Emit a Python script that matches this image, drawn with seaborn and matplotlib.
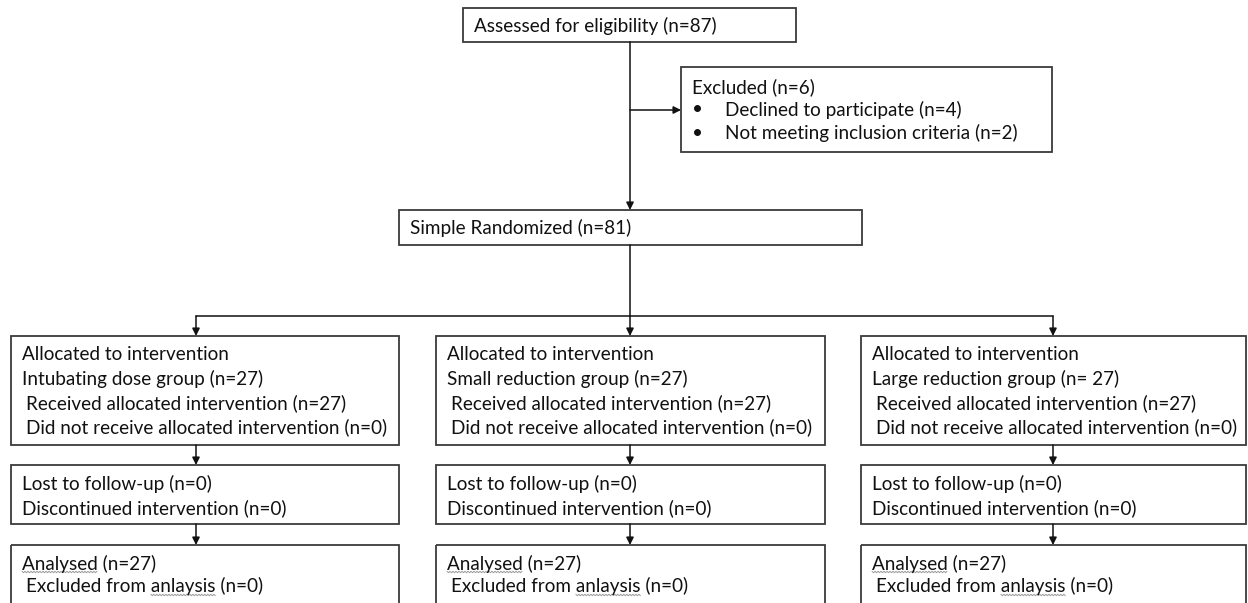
import matplotlib
matplotlib.use("Agg")
import numpy as np
import matplotlib.pyplot as plt
from matplotlib.patches import Rectangle
import seaborn as sns

sns.set_theme(style="white")
plt.rcParams['font.family'] = ['Lato', 'DejaVu Sans']

# flow counts
assessed_n = 87
excluded_n = 6
declined_n = 4
not_meeting_n = 2
randomized_n = 81
groups = ["Intubating dose group", "Small reduction group", "Large reduction group"]
group_n = ["27", "27", " 27"]
received_n = [27, 27, 27]
not_received_n = [0, 0, 0]
lost_n = [0, 0, 0]
discontinued_n = [0, 0, 0]
analysed_n = [27, 27, 27]
excl_analysis_n = [0, 0, 0]

fig = plt.figure(figsize=(12.48, 6.03), dpi=100)
ax = fig.add_axes([0, 0, 1, 1])
ax.set_xlim(0, 1248)
ax.set_ylim(603, 0)
ax.axis('off')

FS = 13.6
EC = '#3a3a3a'
renderer = fig.canvas.get_renderer()


def box(x0, x1, y0, y1):
    ax.add_patch(Rectangle((x0, y0), x1 - x0, y1 - y0, fill=False, lw=1.3, ec=EC))


def txt(x, y, s):
    return ax.text(x, y, s, fontsize=FS, va='center', ha='left', color='#111')


def text_w(s):
    # width of a string in data units (1 unit = 1 px here)
    t = ax.text(0, 0, s, fontsize=FS)
    w = t.get_window_extent(renderer).width
    t.remove()
    return w


def squiggle(x, y, word, prefix=""):
    # spell-check style wavy underline under `word`
    x0 = x + text_w(prefix + word) - text_w(word)
    x1 = x + text_w(prefix + word)
    xs = np.arange(x0, x1, 1.5)
    ys = y + np.where(np.arange(len(xs)) % 2 == 0, -0.7, 0.7)
    ax.plot(xs, ys, color='#9a9a9a', lw=0.7)


def arrow(x0, y0, x1, y1):
    ax.annotate('', xy=(x1, y1), xytext=(x0, y0),
                arrowprops=dict(arrowstyle='-|>', lw=1.1, color='#111',
                                mutation_scale=11, shrinkA=0, shrinkB=0))


# enrollment
box(463, 796, 8, 42)
txt(474, 26, f"Assessed for eligibility (n={assessed_n})")

box(681, 1052, 67, 152)
txt(692, 87, f"Excluded (n={excluded_n})")
for yy, s in [(110, f"Declined to participate (n={declined_n})"),
              (133, f"Not meeting inclusion criteria (n={not_meeting_n})")]:
    txt(692, yy, "•")
    txt(725, yy, s)

arrow(630, 42, 630, 210)
arrow(630, 110, 681, 110)

box(399, 862, 210, 245)
txt(410, 228, f"Simple Randomized (n={randomized_n})")

ax.plot([630, 630], [245, 316], color='#111', lw=1.1)
cols = [(11, 399), (436, 825), (861, 1246)]
arrow_x = [196, 630, 1053]
ax.plot([arrow_x[0], arrow_x[-1]], [316, 316], color='#111', lw=1.1)

for i, ((x0, x1), xa) in enumerate(zip(cols, arrow_x)):
    arrow(xa, 316, xa, 336)
    box(x0, x1, 336, 445)
    txt(x0 + 11, 355, "Allocated to intervention")
    txt(x0 + 11, 379, f"{groups[i]} (n={group_n[i]})")
    txt(x0 + 15, 403, f"Received allocated intervention (n={received_n[i]})")
    txt(x0 + 15, 427, f"Did not receive allocated intervention (n={not_received_n[i]})")

    arrow(xa, 445, xa, 465)
    box(x0, x1, 465, 524)
    txt(x0 + 11, 484, f"Lost to follow-up (n={lost_n[i]})")
    txt(x0 + 11, 508, f"Discontinued intervention (n={discontinued_n[i]})")

    arrow(xa, 524, xa, 545)
    box(x0, x1, 545, 640)
    txt(x0 + 11, 564, f"Analysed (n={analysed_n[i]})")
    squiggle(x0 + 11, 572, "Analysed")
    txt(x0 + 15, 586, f"Excluded from anlaysis (n={excl_analysis_n[i]})")
    squiggle(x0 + 15, 595, "anlaysis", "Excluded from ")

fig.savefig("out.png", dpi=100, facecolor='white')
